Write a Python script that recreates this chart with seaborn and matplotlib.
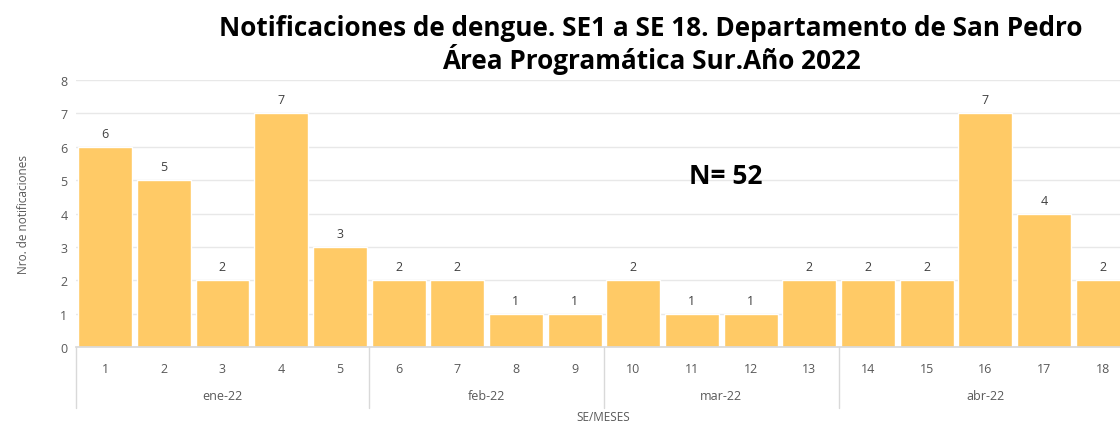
import matplotlib
matplotlib.use("Agg")
import matplotlib.pyplot as plt
import matplotlib.transforms as mtransforms
import seaborn as sns
import pandas as pd

weeks = [str(i) for i in range(1, 19)]
values = [6, 5, 2, 7, 3, 2, 2, 1, 1, 2, 1, 1, 2, 2, 2, 7, 4, 2]
months = ["ene-22", "feb-22", "mar-22", "abr-22"]
month_sizes = [5, 4, 4, 5]

sns.set_theme(style="white")
plt.rcParams['font.family'] = ['Open Sans', 'DejaVu Sans']

df = pd.DataFrame({"SE": weeks, "n": values})

fig = plt.figure(figsize=(11.2, 4.27), dpi=100)
W, H = 1120, 427
left, right = 75.8, 1132.0
top, bottom = 81.0, 348.0
ax = fig.add_axes([left / W, 1 - bottom / H, (right - left) / W, (bottom - top) / H])

sns.barplot(data=df, x="SE", y="n", color="#FFCA66", saturation=1, width=0.92, ax=ax)
ax.set_xlim(-0.5, len(weeks) - 0.5)
ax.set_ylim(0, 8)
ax.set_yticks(range(0, 9))
ax.yaxis.grid(True, color="#E8E8E8", linewidth=1)
ax.set_axisbelow(True)
for s in ["top", "right", "left"]:
    ax.spines[s].set_visible(False)
ax.spines["bottom"].set_color("#D9D9D9")
ax.tick_params(axis="both", length=0, labelsize=9, colors="#595959", pad=6)
ax.tick_params(axis="x", pad=11)
ax.set_xlabel("")
ax.set_ylabel("Nro. de notificaciones", fontsize=8.5, color="#595959", labelpad=22)

for c in ax.containers:
    ax.bar_label(c, fontsize=9, color="#404040", padding=5)

# month group separators and labels
trans = mtransforms.blended_transform_factory(ax.transData, fig.transFigure)
y0 = 1 - 348 / H
y1 = 1 - 409 / H
pos = -0.5
bounds = [pos]
for m, sz in zip(months, month_sizes):
    center = pos + sz / 2
    fig.text(center, 1 - 397 / H, m, transform=trans, fontsize=9, color="#595959",
             ha="center", va="center")
    pos += sz
    bounds.append(pos)
for b in bounds[:-1]:
    ax.plot([b, b], [y0, y1], transform=trans, color="#D9D9D9", lw=1, clip_on=False)

fig.text(603 / W, 1 - 418 / H, "SE/MESES", fontsize=8.5, color="#595959", ha="center", va="center")

fig.text(651 / W, 1 - 28 / H, "Notificaciones de dengue. SE1 a SE 18. Departamento de San Pedro",
         fontsize=18.8, fontweight="bold", color="#000000", ha="center", va="center")
fig.text(651 / W, 1 - 60 / H, "Área Programática Sur.Año 2022",
         fontsize=18.8, fontweight="bold", color="#000000", ha="center", va="center")

ax.text(10.58, 5.15, "N= 52", fontsize=19, fontweight="bold", color="#000000", ha="center", va="center")

fig.savefig("out.png", dpi=100)
